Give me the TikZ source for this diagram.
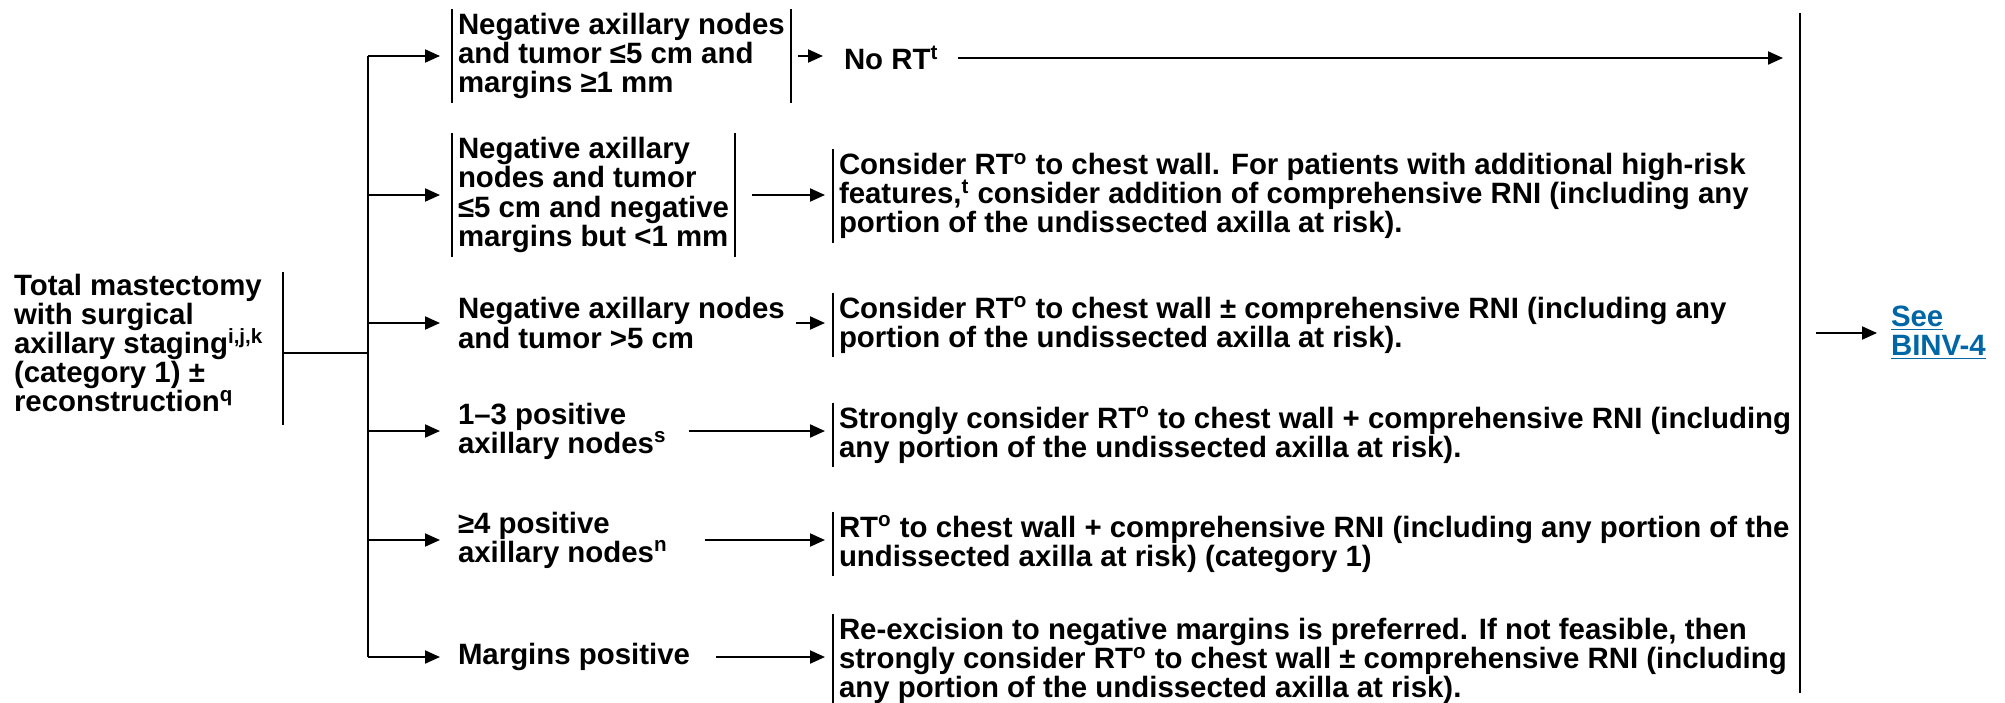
\documentclass[tikz,border=0pt]{standalone}
\usepackage{fontspec}
\setmainfont{Liberation Sans}
\usepackage{xcolor}
\usepackage{tikz}
\usetikzlibrary{arrows.meta,positioning}

\definecolor{seeblue}{RGB}{0,102,166}
\newcommand\tightlines{\lineskiplimit=-20pt\relax}

\begin{document}
\begin{tikzpicture}[
    x=0.5pt, y=-0.5pt,
    line width=1pt,
    every node/.style={font=\bfseries\fontsize{14.7}{14.6}\selectfont\tightlines,
        align=left, inner xsep=2.5pt, inner ysep=1.5pt, anchor=west},
    arr/.style={-{Triangle[length=7.5pt,width=6.5pt]}}
]
\useasboundingbox (0,0) rectangle (2005,702);

% Start box and trunk
\node (start) at (8,343) {Total mastectomy\\with surgical\\axillary staging\textsuperscript{i,j,k}\\(category 1) ±\\reconstruction\textsuperscript{q}};
\draw (283,272) -- (283,425);
\coordinate (trunk) at (368,0);
\coordinate (bar) at (1800,0);
\draw (283,353) -- (368,353);

% Conditions
\node (c1) at (452,56) {Negative axillary nodes\\and tumor ≤5 cm and\\margins ≥1 mm};
\node (c2) at (452,195) {Negative axillary\\nodes and tumor\\≤5 cm and negative\\margins but <1 mm};
\node (c3) at (452,323) {Negative axillary nodes\\and tumor >5 cm};
\node (c4) at (452,431) {1–3 positive\\axillary nodes\textsuperscript{s}};
\node (c5) at (452,540) {≥4 positive\\axillary nodes\textsuperscript{n}};
\node (c6) at (452,657) {Margins positive};

\draw (c1.west -| trunk) -- (c6.west -| trunk);
\foreach \n in {c1,c2,c3,c4,c5,c6}
    \draw[arr, shorten >=6pt] (\n.west -| trunk) -- (\n.west);
\foreach \n in {c1,c2} {
    \draw (\n.north west) -- (\n.south west);
    \draw (\n.north east) -- (\n.south east);
}

% Treatments
\node (nort) at (838,58) {No RT\textsuperscript{t}};
\node (t2) at (833,196) {Consider RT\textsuperscript{o} to chest wall. For patients with additional high-risk\\features,\textsuperscript{t} consider addition of comprehensive RNI (including any\\portion of the undissected axilla at risk).};
\node (t3) at (833,325) {Consider RT\textsuperscript{o} to chest wall ± comprehensive RNI (including any\\portion of the undissected axilla at risk).};
\node (t4) at (833,435) {Strongly consider RT\textsuperscript{o} to chest wall + comprehensive RNI (including\\any portion of the undissected axilla at risk).};
\node (t5) at (833,544) {RT\textsuperscript{o} to chest wall + comprehensive RNI (including any portion of the\\undissected axilla at risk) (category 1)};
\node (t6) at (833,661) {Re-excision to negative margins is preferred. If not feasible, then\\strongly consider RT\textsuperscript{o} to chest wall ± comprehensive RNI (including\\any portion of the undissected axilla at risk).};

\foreach \n in {t2,t3,t4,t5,t6}
    \draw (\n.north west) -- (\n.south west);

\draw[arr, shorten <=3.5pt, shorten >=7.5pt] (c1.east) -- (c1.east -| nort.west);
\foreach \a/\b/\g in {c2/t2/8.5, c3/t3/2.5, c4/t4/8, c5/t5/15.5, c6/t6/10}
    \draw[arr, shorten <=\g pt, shorten >=4pt] (\a.east) -- (\a.east -| \b.west);

% Merge bar and link
\draw (1800,13) -- (1800,693);
\draw[arr, shorten <=7pt, shorten >=8.5pt] (nort.east) -- (nort.east -| bar);
\node[text=seeblue, inner sep=0pt] (see) at (1890,333) {\underline{See}\\\underline{BINV-4}};
\draw[arr, shorten <=8pt, shorten >=6.5pt] (see.west -| bar) -- (see.west);

\end{tikzpicture}
\end{document}
